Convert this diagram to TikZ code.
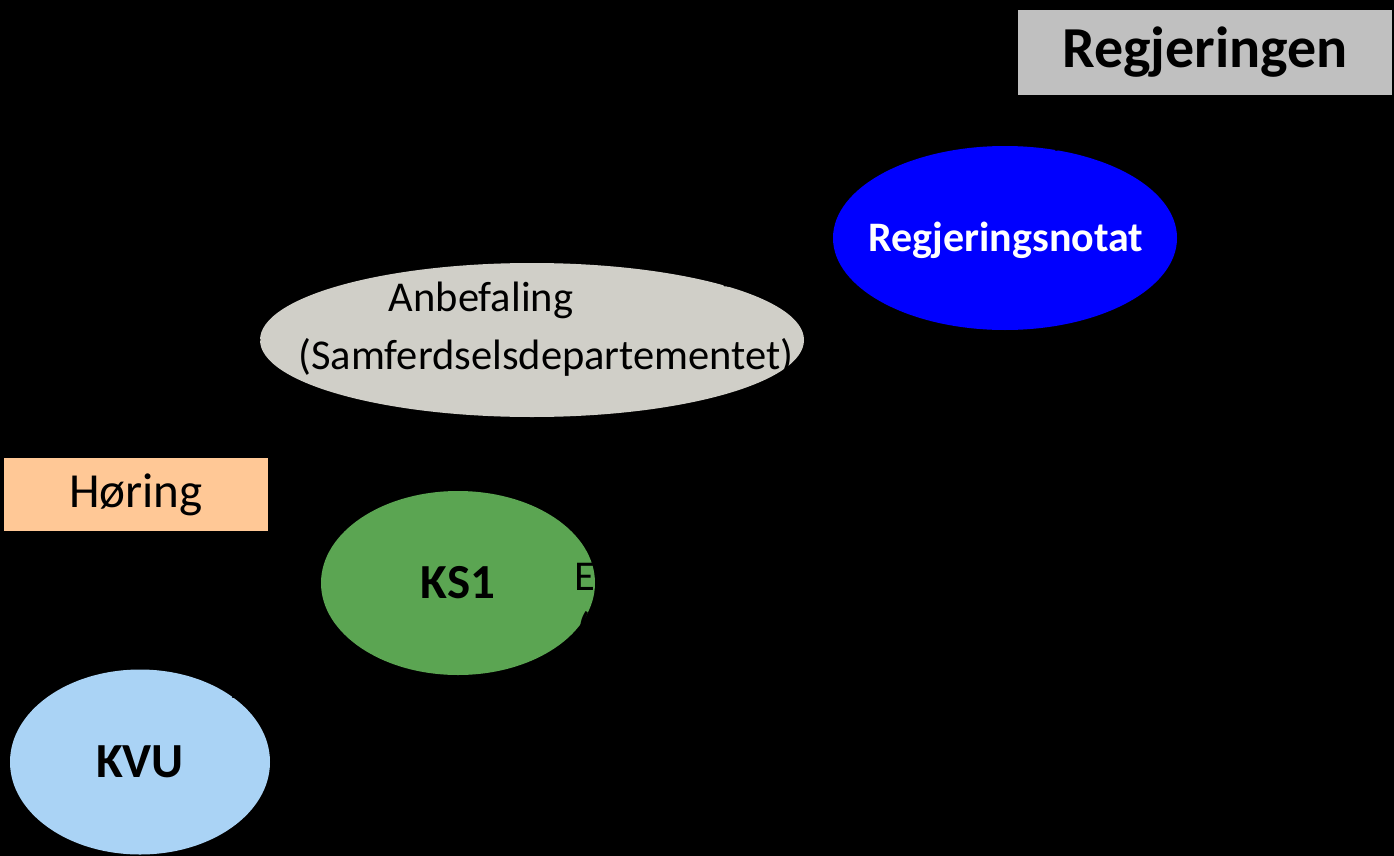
\documentclass[tikz,border=0pt]{standalone}
\usepackage{fontspec}
\setmainfont{Carlito}
\usetikzlibrary{shapes.geometric,arrows.meta}
\definecolor{boxgray}{RGB}{192,192,192}
\definecolor{notatblue}{RGB}{0,0,255}
\definecolor{anbefgray}{RGB}{208,207,200}
\definecolor{horingorange}{RGB}{255,200,150}
\definecolor{ksgreen}{RGB}{91,165,82}
\definecolor{kvublue}{RGB}{170,211,245}
\tikzset{
  stage/.style={ellipse, inner sep=0pt},
  conn/.style={->, black, line width=2pt}
}
\begin{document}
\begin{tikzpicture}[x=1pt,y=-1pt,>=Stealth,line join=round,line cap=round]
			\fill[black] (0,0) rectangle (1394,856);
			\useasboundingbox (0,0) rectangle (1394,856);
			\def \big{\fontsize{58}{68}\selectfont\bfseries}
			\def \mid{\fontsize{49}{58}\selectfont}
			\def \sml{\fontsize{42.5}{57}\selectfont}
			\node[fill=boxgray, minimum width=374pt, minimum height=85pt] (regjeringen) at (1205,52.5) {\big Regjeringen};
			\node[stage, fill=notatblue, minimum width=344pt, minimum height=184pt] (notat) at (1005,238) {};
			\node[text=white] (notattxt) at (1006,240) {\fontsize{42}{48}\selectfont\bfseries Regjeringsnotat};
			\node[stage, fill=anbefgray, minimum width=544pt, minimum height=154pt] (anbef) at (532,340) {};
			\node (anbeftxt) at (481,300) {\sml Anbefaling};
			\node (samftxt) at (546,357) {\sml (Samferdselsdepartementet)};
			\node[fill=horingorange, minimum width=264pt, minimum height=73pt] (horing) at (136,494.5) {\mid Høring};
			\node[stage, fill=ksgreen, minimum width=274pt, minimum height=184pt] (ks) at (458,583) {\mid\bfseries KS1};
			\node[stage, fill=kvublue, minimum width=260pt, minimum height=185pt] (kvu) at (140,762) {\mid\bfseries KVU};
			\node[anchor=west, inner sep=0pt] (ekst) at (574,577) {\sml E};
			\node[anchor=west, inner sep=0pt] (ekstpar) at (577,630) {\sml (};
			% connectors
			\draw[conn] (kvu.35) -- (ks.220);
			\draw[conn] (anbef.west) to[bend right] (horing.north);
			\draw[conn] (anbef.north east) -- (notat.200);
			\draw[conn] (notat.60) -- (regjeringen.south);
\end{tikzpicture}
\end{document}
